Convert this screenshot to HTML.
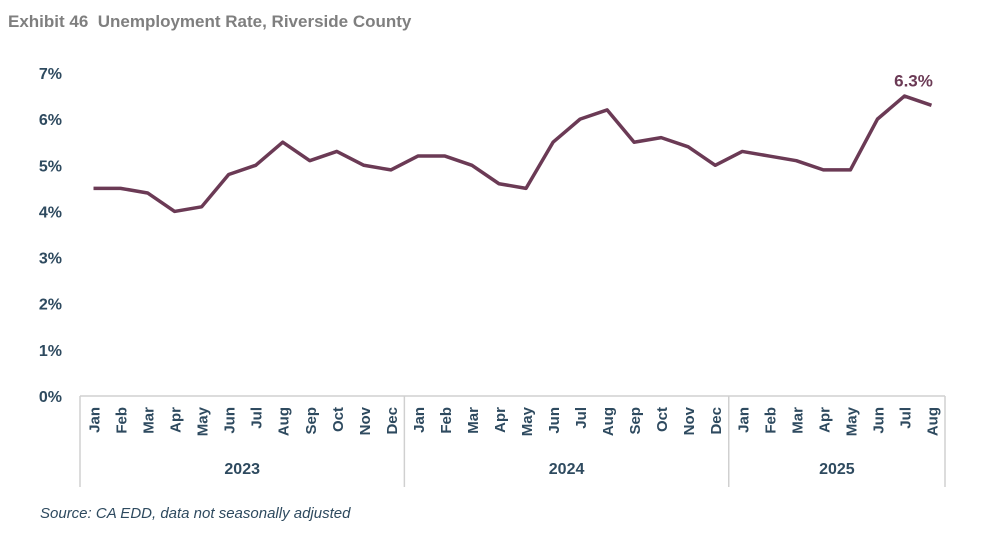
<!DOCTYPE html>
<html><head><meta charset="utf-8"><style>
body{margin:0;background:#fff;width:992px;height:546px;overflow:hidden;font-family:"Liberation Sans",sans-serif}
</style></head><body>
<svg width="992" height="546" xmlns="http://www.w3.org/2000/svg">
<text x="8" y="27" font-size="17" font-weight="bold" fill="#7f7f7f" style="white-space:pre">Exhibit 46  Unemployment Rate, Riverside County</text>
<g id="yaxis"></g>
<g id="xaxis"></g>
<g id="series"></g>
<text x="40" y="518" font-size="15" font-style="italic" fill="#2e4a5f">Source: CA EDD, data not seasonally adjusted</text>
</svg>
<script>
const months=["Jan","Feb","Mar","Apr","May","Jun","Jul","Aug","Sep","Oct","Nov","Dec","Jan","Feb","Mar","Apr","May","Jun","Jul","Aug","Sep","Oct","Nov","Dec","Jan","Feb","Mar","Apr","May","Jun","Jul","Aug"];
const years=["2023","2024","2025"];
const yearCounts=[12,12,8];
const rates=[4.5,4.5,4.4,4.0,4.1,4.8,5.0,5.5,5.1,5.3,5.0,4.9,5.2,5.2,5.0,4.6,4.5,5.5,6.0,6.2,5.5,5.6,5.4,5.0,5.3,5.2,5.1,4.9,4.9,6.0,6.5,6.3];
const yTicks=[0,1,2,3,4,5,6,7];
const NS="http://www.w3.org/2000/svg";
const x0=80,x1=945,y0=396,yTop=73;
const bw=(x1-x0)/months.length;
const X=i=>x0+bw*(i+0.5);
const Y=v=>y0-(y0-yTop)*v/7;
function mk(tag,attrs,parent){const e=document.createElementNS(NS,tag);for(const k in attrs)e.setAttribute(k,attrs[k]);document.getElementById(parent).appendChild(e);return e;}
const C="#2e4a5f";
yTicks.forEach(t=>{const e=mk("text",{x:62,y:Y(t)+6,"font-size":16,"font-weight":"bold",fill:C,"text-anchor":"end"},"yaxis");e.textContent=t+"%";

});
const ax=mk("line",{x1:x0,y1:y0,x2:x1,y2:y0,stroke:"#d0d0d0","stroke-width":1.5},"xaxis");


months.forEach((m,i)=>{const e=mk("text",{transform:`translate(${X(i)+6},407) rotate(-90)`,"font-size":15,"font-weight":"bold",fill:C,"text-anchor":"end"},"xaxis");e.textContent=m;

});
let start=0;
const sep=i=>{const l=mk("line",{x1:x0+bw*i,y1:y0,x2:x0+bw*i,y2:487,stroke:"#d0d0d0","stroke-width":1.5},"xaxis");

};
sep(0);
years.forEach((y,k)=>{const n=yearCounts[k];const cx=x0+bw*(start+n/2);const e=mk("text",{x:cx,y:474,"font-size":16,"font-weight":"bold",fill:C,"text-anchor":"middle"},"xaxis");e.textContent=y;


start+=n;sep(start);});
const p=mk("polyline",{points:rates.map((v,i)=>X(i)+","+Y(v)).join(" "),fill:"none",stroke:"#6b3a55","stroke-width":3.5,"stroke-linejoin":"round"},"series");


const li=rates.length-1;
const lb=mk("text",{x:X(li)-18,y:Y(rates[li])-19,"font-size":17,"font-weight":"bold",fill:"#6b3a55","text-anchor":"middle"},"series");
lb.textContent=rates[li].toFixed(1)+"%";


</script>
</body></html>
